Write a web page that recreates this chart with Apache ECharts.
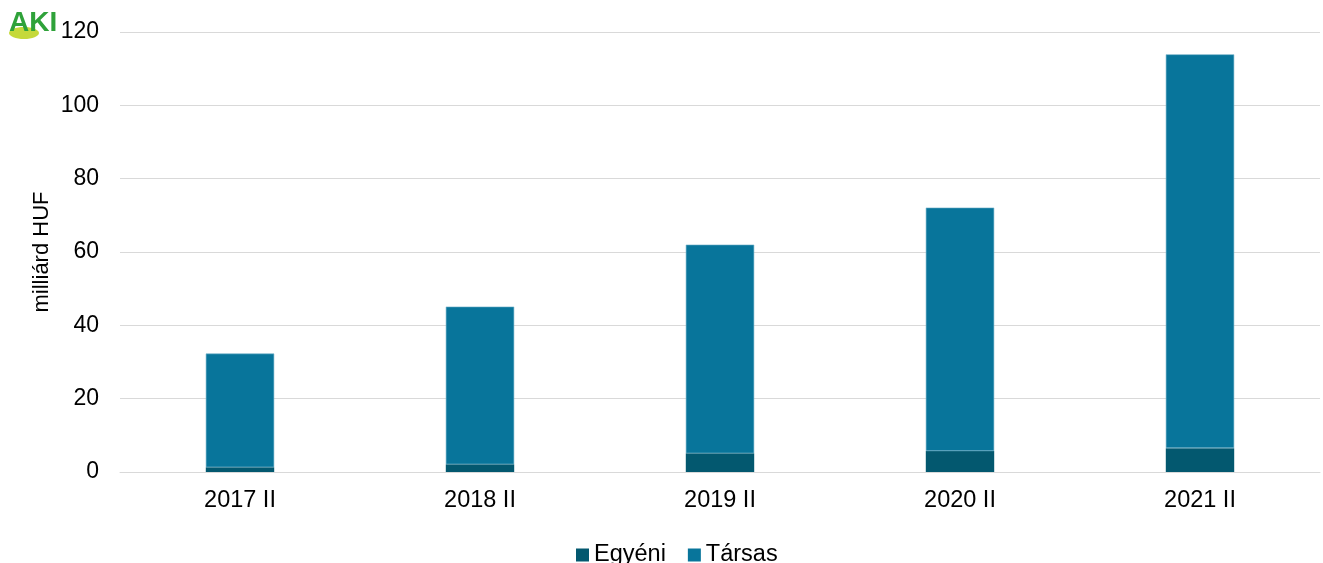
<!DOCTYPE html>
<html><head><meta charset="utf-8">
<script src="https://cdn.jsdelivr.net/npm/echarts@6/dist/echarts.min.js"></script>
<style>html,body{margin:0;padding:0;background:#fff}#c{width:1323px;height:563px}</style>
</head><body><div id="c"></div>
<script>
const categories = ['2017 II','2018 II','2019 II','2020 II','2021 II'];
const egyeni = [1.3, 2.1, 5.1, 5.7, 6.5];
const tarsas = [31.0, 43.0, 56.9, 66.4, 107.4];
const yTicks = [0, 20, 40, 60, 80, 100, 120];

const chart = echarts.init(document.getElementById('c'));
const font = 'Liberation Sans, Arial, sans-serif';
chart.setOption({
  animation: false,
  textStyle: { fontFamily: font },
  graphic: [
    { type: 'ellipse', shape: { cx: 24, cy: 33, rx: 15, ry: 6 }, style: { fill: '#c5d93a' } },
    { type: 'text', left: 9, top: 9, style: { text: 'AKI', fontSize: 28, fontWeight: 'bold', fill: '#2fa23a', fontFamily: font } }
  ],
  grid: { left: 120, right: 3, top: 32, bottom: 91 },
  legend: {
    bottom: -9, left: 571, itemWidth: 13, itemHeight: 13, itemGap: 22,
    icon: 'rect',
    itemStyle: { borderWidth: 0 },
    textStyle: { fontSize: 23.5, color: '#000', fontFamily: font },
    data: ['Egyéni', 'Társas']
  },
  xAxis: {
    type: 'category', data: categories,
    axisLine: { show: true, lineStyle: { color: '#d9d9d9', width: 1 } },
    axisTick: { show: false },
    axisLabel: { fontSize: 23.5, color: '#000', margin: 17, fontFamily: font }
  },
  yAxis: {
    type: 'value', min: yTicks[0], max: yTicks[yTicks.length - 1], interval: 20,
    name: 'milliárd HUF', nameLocation: 'middle', nameGap: 67, nameRotate: 90,
    nameMoveOverlap: false,
    nameTextStyle: { fontSize: 22, color: '#000', fontFamily: font },
    axisLine: { show: false }, axisTick: { show: false },
    axisLabel: { fontSize: 23, color: '#000', margin: 21, fontFamily: font },
    splitLine: { lineStyle: { color: '#d9d9d9', width: 1 } }
  },
  series: [
    { name: 'Egyéni', type: 'bar', stack: 'a', data: egyeni, barWidth: '28.5%',
      itemStyle: { color: '#03586f' } },
    { name: 'Társas', type: 'bar', stack: 'a', data: tarsas, barWidth: '28.5%',
      itemStyle: { color: '#08759b', borderColor: '#6fb0c8', borderWidth: 0.6 } }
  ]
});
</script></body></html>
